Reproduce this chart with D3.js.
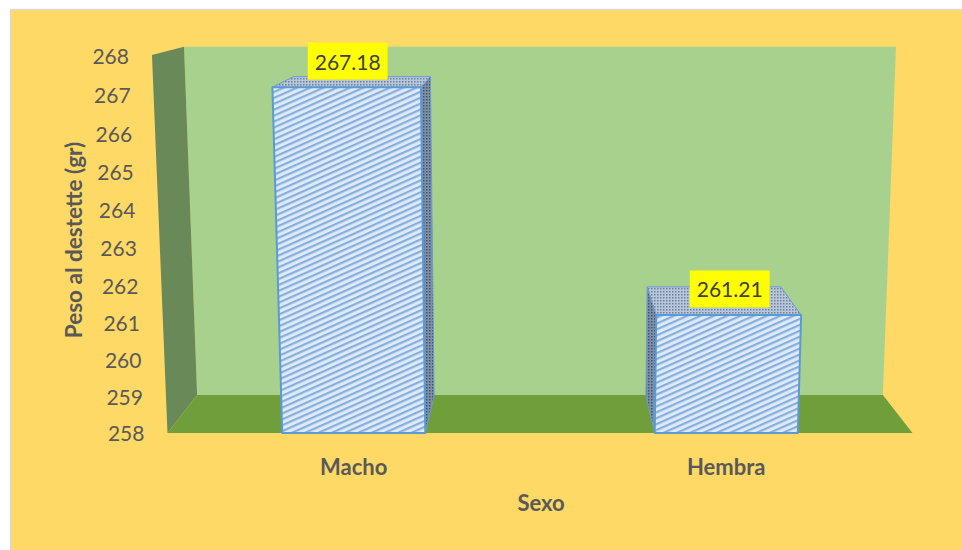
<!DOCTYPE html>
<html>
<head>
<meta charset="utf-8">
<script src="https://cdn.jsdelivr.net/npm/d3@7"></script>
<style>
  html, body { margin: 0; padding: 0; background: #ffffff; }
  svg { display: block; }
  text { font-family: Lato, "Open Sans", sans-serif; }
</style>
</head>
<body>
<div id="chart"></div>
<script>
// ---------- data ----------
const categories = ["Macho", "Hembra"];
const values = [267.18, 261.21];
const yTicks = [258, 259, 260, 261, 262, 263, 264, 265, 266, 267, 268];
const yTitle = "Peso al destette (gr)";
const xTitle = "Sexo";

// ---------- canvas ----------
const width = 962, height = 550;
const svg = d3.select("#chart").append("svg")
  .attr("width", width).attr("height", height);

// ---------- simple 3D perspective camera ----------
const F = 1718, ox = 540, oy = 275;
const theta = Math.atan(0.1863);
const cs = Math.cos(theta), sn = Math.sin(theta);
const Wd = 0.4488, Hd = 0.2262, Dd = 0.091;   // world width/height/depth
const camX = Wd / 2, camY = 0.28309, camZ = -1;

function proj(X, Y, Z) {
  const qx = X - camX, qy = Y - camY, qz = Z - camZ;
  const yc = qy * cs + qz * sn;
  const zc = -qy * sn + qz * cs;
  return [ox + F * qx / zc, oy - F * yc / zc];
}
const poly = pts => pts.map(p => proj(...p).join(",")).join(" ");

// scales (world units)
const y = d3.scaleLinear().domain([258, 268]).range([0, Hd]);
const x = d3.scaleBand().domain(categories).range([0, Wd])
  .paddingInner(0.616).paddingOuter(0.308);

// ---------- defs / patterns ----------
const defs = svg.append("defs");
const pf = defs.append("pattern").attr("id", "front")
  .attr("patternUnits", "userSpaceOnUse").attr("width", 12).attr("height", 5.4)
  .attr("patternTransform", "rotate(-24)");
pf.append("rect").attr("width", 12).attr("height", 5.4).attr("fill", "#DCEBFA");
pf.append("rect").attr("y", 0).attr("width", 12).attr("height", 2.2).attr("fill", "#8AAEDB");

const pt = defs.append("pattern").attr("id", "topf")
  .attr("patternUnits", "userSpaceOnUse").attr("width", 3).attr("height", 3);
pt.append("rect").attr("width", 3).attr("height", 3).attr("fill", "#B7C7DC");
pt.append("rect").attr("width", 1.5).attr("height", 1.5).attr("fill", "#6F7F96");

const ps = defs.append("pattern").attr("id", "sidef")
  .attr("patternUnits", "userSpaceOnUse").attr("width", 3).attr("height", 3);
ps.append("rect").attr("width", 3).attr("height", 3).attr("fill", "#7D90AA");
ps.append("rect").attr("width", 1.5).attr("height", 1.5).attr("fill", "#46556B");

// ---------- background ----------
svg.append("rect").attr("x", 10.5).attr("y", 9.5)
  .attr("width", width).attr("height", height)
  .attr("fill", "#FFD966").attr("stroke", "#D9D9D9").attr("stroke-width", 1.5);

// ---------- walls & floor ----------
const g = svg.append("g");
// back wall
g.append("polygon").attr("points", poly([[0,0,Dd],[Wd,0,Dd],[Wd,Hd,Dd],[0,Hd,Dd]]))
  .attr("fill", "#A9D18E");
// side wall
g.append("polygon").attr("points", poly([[0,0,0],[0,0,Dd],[0,Hd,Dd],[0,Hd,0]]))
  .attr("fill", "#6A8958");
// floor
g.append("polygon").attr("points", poly([[0,0,0],[Wd,0,0],[Wd,0,Dd],[0,0,Dd]]))
  .attr("fill", "#6F9E3A");

// ---------- bars ----------
const z0 = 0, z1 = 0.088;
const bars = categories.map((c, i) => ({ c, v: values[i], x0: x(c), x1: x(c) + x.bandwidth() }));

bars.forEach(b => {
  const yt = y(b.v), yb = y(258);
  const bg = g.append("g");
  // side face facing camera
  if (b.x1 < camX) {
    bg.append("polygon").attr("points", poly([[b.x1,yb,z0],[b.x1,yb,z1],[b.x1,yt,z1],[b.x1,yt,z0]]))
      .attr("fill", "url(#sidef)").attr("stroke", "#6E9BD0").attr("stroke-width", 1);
  } else if (b.x0 > camX) {
    bg.append("polygon").attr("points", poly([[b.x0,yb,z0],[b.x0,yb,z1],[b.x0,yt,z1],[b.x0,yt,z0]]))
      .attr("fill", "url(#sidef)").attr("stroke", "#6E9BD0").attr("stroke-width", 1);
  }
  // top
  bg.append("polygon").attr("points", poly([[b.x0,yt,z0],[b.x1,yt,z0],[b.x1,yt,z1],[b.x0,yt,z1]]))
    .attr("fill", "url(#topf)").attr("stroke", "#6E9BD0").attr("stroke-width", 1);
  // front
  bg.append("polygon").attr("points", poly([[b.x0,yb,z0],[b.x1,yb,z0],[b.x1,yt,z0],[b.x0,yt,z0]]))
    .attr("fill", "url(#front)").attr("stroke", "#5B9BD5").attr("stroke-width", 2)
    .attr("stroke-linejoin", "round");
});

// ---------- y tick labels ----------
yTicks.forEach(t => {
  const p = proj(0, y(t), 0);
  svg.append("text").attr("x", p[0] - 23).attr("y", p[1])
    .attr("text-anchor", "end").attr("dominant-baseline", "central")
    .attr("font-size", 21).attr("fill", "#595959").text(t);
});

// ---------- category labels ----------
bars.forEach(b => {
  const p = proj((b.x0 + b.x1) / 2, 0, 0);
  svg.append("text").attr("x", p[0]).attr("y", p[1] + 34)
    .attr("text-anchor", "middle").attr("dominant-baseline", "central")
    .attr("font-size", 22).attr("font-weight", "bold").attr("fill", "#595959").text(b.c);
});

// ---------- axis titles ----------
svg.append("text").attr("x", 541).attr("y", 502)
  .attr("text-anchor", "middle").attr("dominant-baseline", "central")
  .attr("font-size", 22).attr("font-weight", "bold").attr("fill", "#595959").text(xTitle);
svg.append("text").attr("transform", "translate(73,240) rotate(-90)")
  .attr("text-anchor", "middle").attr("dominant-baseline", "central")
  .attr("font-size", 22.5).attr("font-weight", "bold").attr("fill", "#595959").text(yTitle);

// ---------- data labels ----------
bars.forEach(b => {
  const pl = proj(b.x0, y(b.v), 0), pr = proj(b.x1, y(b.v), 0);
  const cx = (pl[0] + pr[0]) / 2 + 1, cy = pl[1] - 26;
  const lg = svg.append("g");
  const tx = lg.append("text").attr("x", cx).attr("y", cy)
    .attr("text-anchor", "middle").attr("dominant-baseline", "central")
    .attr("font-size", 21).attr("fill", "#404040").text(b.v.toFixed(2));
  const bb = tx.node().getBBox();
  lg.insert("rect", "text").attr("x", cx - bb.width / 2 - 7).attr("y", cy - 18.5)
    .attr("width", bb.width + 14).attr("height", 37).attr("fill", "#FFFF00");
});
</script>
</body>
</html>
